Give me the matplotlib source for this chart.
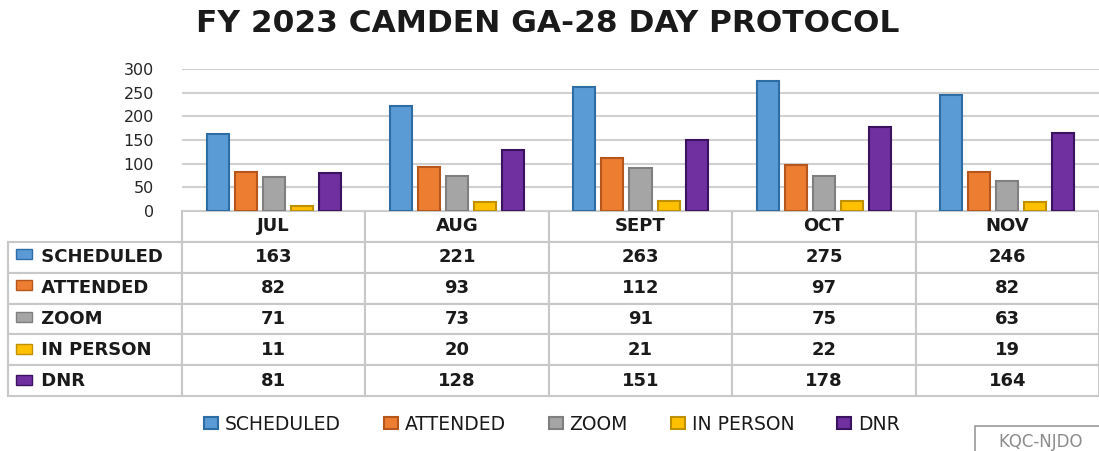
import matplotlib.pyplot as plt
from matplotlib.patches import Rectangle
import numpy as np

plt.rcParams['font.family'] = ['DejaVu Sans']

months = ["JUL", "AUG", "SEPT", "OCT", "NOV"]
series = ["SCHEDULED", "ATTENDED", "ZOOM", "IN PERSON", "DNR"]
scheduled = [163, 221, 263, 275, 246]
attended = [82, 93, 112, 97, 82]
zoom = [71, 73, 91, 75, 63]
in_person = [11, 20, 21, 22, 19]
dnr = [81, 128, 151, 178, 164]

colors = ["#5B9BD5", "#ED7D31", "#A5A5A5", "#FFC000", "#7030A0"]
edges = ["#2E6DA4", "#B5561C", "#7F7F7F", "#BF9000", "#3A1260"]

values = [scheduled, attended, zoom, in_person, dnr]

W, H = 1099, 451
fig = plt.figure(figsize=(W / 100, H / 100), dpi=100)
ax = fig.add_axes([182 / W, (H - 211) / H, (1099 - 182) / W, (211 - 69) / H])

x = np.arange(len(months))
pitch = 0.153
width = 0.12
for i, (name, vals) in enumerate(zip(series, values)):
    ax.bar(x + (i - 2) * pitch, vals, width, color=colors[i], edgecolor=edges[i],
           linewidth=1.5, label=name, zorder=3)

ax.set_xlim(-0.5, len(months) - 0.5)
ax.set_ylim(0, 300)
ax.set_yticks(range(0, 301, 50))
ax.tick_params(axis='y', length=0, pad=20, labelsize=11.5, labelcolor="#262626")
ax.set_xticks([])
ax.grid(axis='y', color="#D0D0D0", linewidth=1.5, zorder=0)
for s in ax.spines.values():
    s.set_visible(False)

# data table under the chart
table_data = [[""] + months]
for i in range(len(series)):
    table_data.append(["     " + series[i]] + [str(v) for v in values[i]])

col_w = [174] + [183.4] * len(months)
table = ax.table(cellText=table_data, cellLoc='center',
                 colWidths=[w / sum(col_w) for w in col_w],
                 bbox=[(8 - 182) / 917, (211 - 396) / 142, (1099 - 8) / 917, (396 - 211) / 142])
table.auto_set_font_size(False)
table.set_fontsize(13)
for (r, c), cell in table.get_celld().items():
    cell.set_edgecolor("#C8C8C8")
    cell.set_linewidth(1.5)
    cell.get_text().set_fontweight('bold')
    cell.get_text().set_color("#1A1A1A")
    if c == 0:
        cell.get_text().set_ha('left')
        cell.PAD = 0.01
    if r == 0 and c == 0:
        cell.visible_edges = ''

# small colour keys in the row labels
row_h = (396 - 238) / len(series)
for i in range(len(series)):
    yc = (211 - (238 + row_h * i + row_h / 2)) / 142
    ax.add_patch(Rectangle(((16 - 182) / 917, yc - 0.035), 16 / 917, 0.07,
                           transform=ax.transAxes, clip_on=False, zorder=5,
                           facecolor=colors[i], edgecolor=edges[i], linewidth=1))

fig.text(548 / W, 1 - 24 / H, "FY 2023 CAMDEN GA-28 DAY PROTOCOL", ha='center', va='center',
         fontsize=22.5, fontweight='bold', color="#1A1A1A")

fig.legend(loc='center', bbox_to_anchor=(552 / W, 1 - 424 / H), ncol=5, frameon=False,
           prop={'size': 13.5}, labelcolor="#1A1A1A",
           handlelength=0.75, handleheight=0.6, handletextpad=0.35, columnspacing=2.3)

fig.patches.append(Rectangle((975 / W, -0.05), 0.2, 25 / H + 0.05, transform=fig.transFigure,
                             facecolor='white', edgecolor="#9A9A9A", linewidth=1.2))
fig.text(998 / W, 1 - 442 / H, "KQC-NJDO", fontsize=12, color="#8C8C8C", va='center')

fig.savefig("out.png", dpi=100)
